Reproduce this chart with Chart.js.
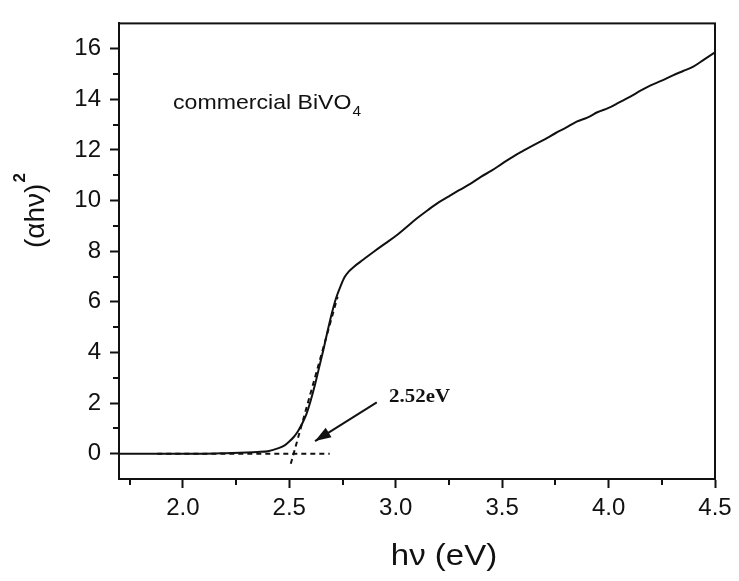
<!DOCTYPE html>
<html>
<head>
<meta charset="utf-8">
<script src="https://cdn.jsdelivr.net/npm/chart.js@4/dist/chart.umd.min.js"></script>
<style>
  html, body { margin: 0; padding: 0; background: #fff; }
  #wrap { width: 739px; height: 581px; position: relative; }
</style>
</head>
<body>
<div id="wrap"><canvas id="chart"></canvas></div>
<script>
// photon energy (eV) and (alpha h nu)^2
const hv = [1.70, 1.80, 1.90, 2.00, 2.10, 2.20, 2.30, 2.35, 2.40, 2.45, 2.48, 2.50,
    2.52, 2.54, 2.56, 2.58, 2.60, 2.62, 2.64, 2.66, 2.68, 2.70, 2.72, 2.74, 2.76, 2.78, 2.80,
    2.85, 2.90, 2.95, 3.00, 3.05, 3.10, 3.15, 3.20, 3.25, 3.30, 3.35, 3.40, 3.45, 3.50,
    3.55, 3.60, 3.65, 3.70, 3.75, 3.80, 3.85, 3.90, 3.95, 4.00, 4.05, 4.10, 4.15, 4.20,
    4.25, 4.30, 4.35, 4.40, 4.45, 4.50];
const ahv2 = [0.00, 0.00, 0.00, 0.00, 0.00, 0.02, 0.05, 0.07, 0.10, 0.22, 0.34, 0.48,
    0.65, 0.88, 1.18, 1.55, 2.08, 2.70, 3.40, 4.10, 4.85, 5.55, 6.15, 6.60, 6.98, 7.20, 7.36,
    7.68, 8.00, 8.30, 8.60, 8.95, 9.30, 9.62, 9.92, 10.17, 10.42, 10.66, 10.94, 11.18, 11.46,
    11.73, 11.97, 12.20, 12.42, 12.66, 12.88, 13.12, 13.28, 13.50, 13.66, 13.88, 14.10, 14.34, 14.56,
    14.74, 14.94, 15.12, 15.30, 15.58, 15.86];

// dashed construction lines (baseline and tangent at the edge)
const baseX = [1.88, 2.69];
const baseY = [0, 0];
const tangentX = [2.507, 2.727];
const tangentY = [-0.4, 6.2];

// arrow pointing at the intercept (tail -> tip)
const arrowX = [2.911, 2.621];
const arrowY = [2.03, 0.50];

const xTicks = [2.0, 2.5, 3.0, 3.5, 4.0, 4.5];
const xMinorTicks = [1.75, 2.25, 2.75, 3.25, 3.75, 4.25];
const yTicks = [0, 2, 4, 6, 8, 10, 12, 14, 16];
const yMinorTicks = [1, 3, 5, 7, 9, 11, 13, 15];

const sampleLabel = "commercial BiVO";
const gapLabel = "2.52eV";

function pts(xs, ys) {
    return xs.map((x, i) => ({ x: x, y: ys[i] }));
}

const ink = "#111";

const extrasPlugin = {
    id: "extras",
    afterDraw(chart) {
        const ctx = chart.ctx;
        const xs = chart.scales.x;
        const ys = chart.scales.y;
        const area = chart.chartArea;
        ctx.save();
        ctx.strokeStyle = ink;
        ctx.fillStyle = ink;
        ctx.lineWidth = 2;

        // frame
        ctx.strokeRect(area.left, area.top, area.right - area.left, area.bottom - area.top);

        // minor ticks
        ctx.beginPath();
        xMinorTicks.forEach(v => {
            const px = Math.round(xs.getPixelForValue(v));
            ctx.moveTo(px, area.bottom);
            ctx.lineTo(px, area.bottom + 6);
        });
        yMinorTicks.forEach(v => {
            const py = Math.round(ys.getPixelForValue(v));
            ctx.moveTo(area.left, py);
            ctx.lineTo(area.left - 6, py);
        });
        ctx.stroke();

        // arrow head
        const tx = xs.getPixelForValue(arrowX[1]), ty = ys.getPixelForValue(arrowY[1]);
        const sx = xs.getPixelForValue(arrowX[0]), sy = ys.getPixelForValue(arrowY[0]);
        const a = Math.atan2(ty - sy, tx - sx);
        ctx.beginPath();
        ctx.moveTo(tx, ty);
        ctx.lineTo(tx - 16 * Math.cos(a) + 5.5 * Math.sin(a), ty - 16 * Math.sin(a) - 5.5 * Math.cos(a));
        ctx.lineTo(tx - 16 * Math.cos(a) - 5.5 * Math.sin(a), ty - 16 * Math.sin(a) + 5.5 * Math.cos(a));
        ctx.closePath();
        ctx.fill();

        // sample label
        ctx.textBaseline = "alphabetic";
        ctx.textAlign = "left";
        ctx.save();
        ctx.translate(xs.getPixelForValue(1.954), ys.getPixelForValue(13.62));
        ctx.scale(1.1, 1);
        ctx.font = "21px 'Liberation Sans', Arial, sans-serif";
        ctx.fillText(sampleLabel, 0, 0);
        const w1 = ctx.measureText(sampleLabel).width;
        ctx.font = "14px 'Liberation Sans', Arial, sans-serif";
        ctx.fillText("4", w1 + 1, 7);
        ctx.restore();

        // band gap label
        ctx.save();
        ctx.translate(xs.getPixelForValue(2.969), ys.getPixelForValue(2.23));
        ctx.scale(1.1, 1);
        ctx.textBaseline = "middle";
        ctx.font = "bold 19px 'Liberation Serif', 'Times New Roman', serif";
        ctx.fillText(gapLabel, 0, 0);
        ctx.restore();

        // x axis title
        ctx.save();
        ctx.translate(444, 565);
        ctx.scale(1.1, 1);
        ctx.textAlign = "center";
        ctx.font = "30px 'Liberation Sans', Arial, sans-serif";
        ctx.fillText("h\u03bd (eV)", 0, 0);
        ctx.restore();

        // y axis title
        ctx.save();
        ctx.translate(44, 248);
        ctx.rotate(-Math.PI / 2);
        ctx.textAlign = "left";
        ctx.font = "28px 'Liberation Sans', Arial, sans-serif";
        ctx.fillText("(\u03b1h\u03bd)", 0, 0);
        const w2 = ctx.measureText("(\u03b1h\u03bd)").width;
        ctx.font = "bold 17px 'Liberation Sans', Arial, sans-serif";
        ctx.fillText("2", w2 + 1, -19);
        ctx.restore();

        ctx.restore();
    }
};

const tickFont = { family: "'Liberation Sans', Arial, sans-serif", size: 24 };

new Chart(document.getElementById("chart"), {
    type: "scatter",
    data: {
        datasets: [
            {
                data: pts(hv, ahv2),
                showLine: true,
                borderColor: ink,
                borderWidth: 2,
                pointRadius: 0,
                cubicInterpolationMode: "monotone"
            },
            {
                data: pts(baseX, baseY),
                showLine: true,
                borderColor: ink,
                borderWidth: 2,
                borderDash: [5, 4],
                pointRadius: 0
            },
            {
                data: pts(tangentX, tangentY),
                showLine: true,
                borderColor: ink,
                borderWidth: 2,
                borderDash: [5, 4],
                pointRadius: 0
            },
            {
                data: pts(arrowX, arrowY),
                showLine: true,
                borderColor: ink,
                borderWidth: 2,
                pointRadius: 0
            }
        ]
    },
    options: {
        responsive: true,
        maintainAspectRatio: false,
        animation: false,
        layout: { padding: { top: 10, right: 24, left: 0, bottom: 0 } },
        plugins: {
            legend: { display: false },
            tooltip: { enabled: false }
        },
        scales: {
            x: {
                type: "linear",
                min: 1.7,
                max: 4.5,
                afterBuildTicks: s => { s.ticks = xTicks.map(v => ({ value: v })); },
                afterFit: s => { s.height = 102; },
                border: { display: true, color: ink, width: 2 },
                grid: { drawOnChartArea: false, drawTicks: true, tickLength: 9, tickWidth: 2, tickColor: ink },
                ticks: {
                    color: ink,
                    font: tickFont,
                    padding: 6,
                    maxRotation: 0,
                    callback: v => Number(v).toFixed(1)
                }
            },
            y: {
                type: "linear",
                min: -1,
                max: 17,
                afterBuildTicks: s => { s.ticks = yTicks.map(v => ({ value: v })); },
                afterFit: s => { s.width = 119; },
                border: { display: true, color: ink, width: 2 },
                grid: { drawOnChartArea: false, drawTicks: true, tickLength: 9, tickWidth: 2, tickColor: ink },
                ticks: {
                    color: ink,
                    font: tickFont,
                    padding: 9,
                    callback: v => String(v)
                }
            }
        }
    },
    plugins: [extrasPlugin]
});
</script>
</body>
</html>
